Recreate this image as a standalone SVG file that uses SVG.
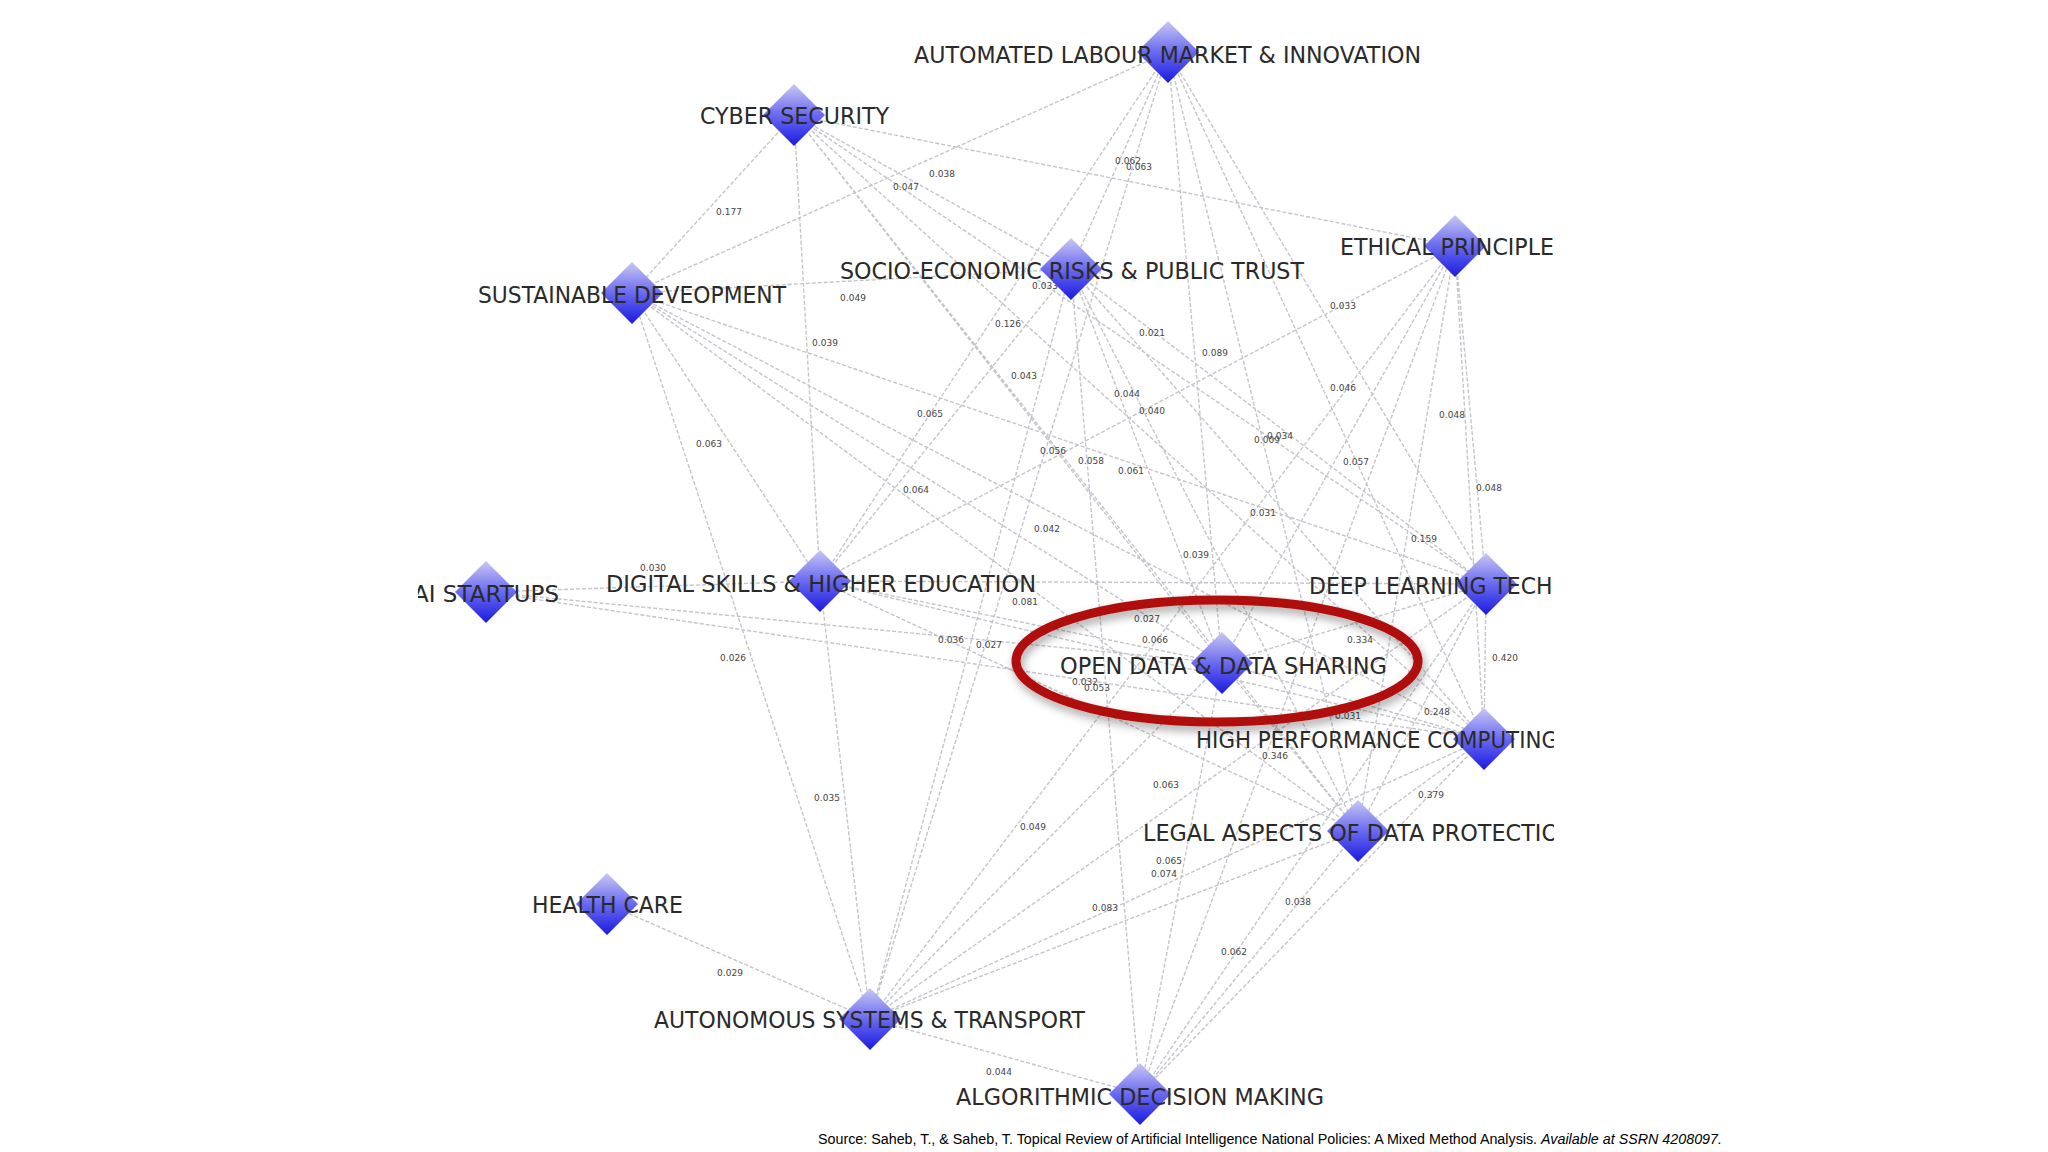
<svg xmlns="http://www.w3.org/2000/svg" width="2048" height="1152" viewBox="0 0 2048 1152">
<defs>
<linearGradient id="dg" x1="0" y1="0" x2="0" y2="1"><stop offset="0" stop-color="#c8c8f4"/><stop offset="0.5" stop-color="#6a6af0"/><stop offset="1" stop-color="#1a1ae0"/></linearGradient>
<symbol id="dia" viewBox="-32 -32 64 64" overflow="visible"><path d="M0,-31 L31,0 L0,31 L-31,0 Z" fill="url(#dg)"/></symbol>
<clipPath id="clip"><rect x="418" y="0" width="1136" height="1125"/></clipPath>
<filter id="sh" x="-20%" y="-30%" width="140%" height="160%"><feDropShadow dx="2" dy="5" stdDeviation="5" flood-color="#000" flood-opacity="0.35"/></filter>
</defs>
<style>
.e{stroke:#c4c4cc;stroke-width:1.4;stroke-dasharray:4 2;fill:none}
.w{font-family:"DejaVu Sans",sans-serif;font-size:9px;fill:#444;text-anchor:middle}
.n{font-family:"DejaVu Sans",sans-serif;font-size:23px;fill:#2a2a2a}
.s{font-family:"Liberation Sans",Arial,sans-serif;font-size:14px;fill:#000}
</style>
<rect width="2048" height="1152" fill="#fff"/>
<g id="connectors" clip-path="url(#clip)">
<path class="e" d="M1168,52L632,293M1168,52L1071,269M1168,52L820,581M1168,52L1222,663M1168,52L1486,584M1168,52L1484,739M1168,52L1358,831M1168,52L870,1019
M794,115L632,293M794,115L1455,246M794,115L820,581M794,115L1222,663M794,115L1486,584M794,115L1484,739M794,115L1358,831M794,115L1071,269
M632,293L1071,269M632,293L870,1019M632,293L820,581M632,293L1222,663M632,293L1486,584M632,293L1484,739M632,293L1358,831
M1071,269L870,1019M1071,269L1222,663M1071,269L1358,831M1071,269L1484,739M1071,269L1486,584M1071,269L1140,1094M1071,269L820,581
M1455,246L820,581M1455,246L1222,663M1455,246L1486,584M1455,246L1484,739M1455,246L1358,831M1455,246L1140,1094M1455,246L870,1019
M486,592L820,581M486,592L1222,663M486,592L1484,739
M820,581L1486,584M820,581L1222,663M820,581L1484,739M820,581L1358,831M820,581L870,1019
M1486,584L1222,663M1486,584L1484,739M1486,584L1358,831M1486,584L870,1019M1486,584L1140,1094
M1222,663L1484,739M1222,663L1358,831M1222,663L870,1019M1222,663L1140,1094
M1484,739L1358,831M1484,739L870,1019M1484,739L1140,1094
M1358,831L1140,1094M1358,831L870,1019M607,904L870,1019M870,1019L1140,1094"/>
<text class="w" x="942" y="177">0.038</text><text class="w" x="906" y="190">0.047</text><text class="w" x="729" y="215">0.177</text>
<text class="w" x="1128" y="164">0.062</text><text class="w" x="1139" y="170">0.063</text><text class="w" x="853" y="301">0.049</text>
<text class="w" x="825" y="346">0.039</text><text class="w" x="1008" y="327">0.126</text><text class="w" x="1152" y="336">0.021</text>
<text class="w" x="1045" y="289">0.033</text><text class="w" x="1215" y="356">0.089</text><text class="w" x="1343" y="309">0.033</text>
<text class="w" x="1024" y="379">0.043</text><text class="w" x="1343" y="391">0.046</text><text class="w" x="930" y="417">0.065</text>
<text class="w" x="1127" y="397">0.044</text><text class="w" x="1152" y="414">0.040</text><text class="w" x="1452" y="418">0.048</text>
<text class="w" x="709" y="447">0.063</text><text class="w" x="1053" y="454">0.056</text><text class="w" x="1091" y="464">0.058</text>
<text class="w" x="1131" y="474">0.061</text><text class="w" x="1280" y="439">0.034</text><text class="w" x="1267" y="443">0.009</text>
<text class="w" x="1356" y="465">0.057</text><text class="w" x="916" y="493">0.064</text><text class="w" x="1489" y="491">0.048</text>
<text class="w" x="1263" y="516">0.031</text><text class="w" x="1047" y="532">0.042</text><text class="w" x="1424" y="542">0.159</text>
<text class="w" x="1196" y="558">0.039</text><text class="w" x="653" y="571">0.030</text><text class="w" x="1025" y="605">0.081</text>
<text class="w" x="1147" y="622">0.027</text><text class="w" x="1155" y="643">0.066</text><text class="w" x="951" y="643">0.036</text>
<text class="w" x="989" y="648">0.027</text><text class="w" x="1360" y="643">0.334</text><text class="w" x="733" y="661">0.026</text>
<text class="w" x="1505" y="661">0.420</text><text class="w" x="1085" y="685">0.032</text><text class="w" x="1097" y="691">0.053</text>
<text class="w" x="1348" y="719">0.031</text><text class="w" x="1437" y="715">0.248</text><text class="w" x="1275" y="759">0.346</text>
<text class="w" x="1166" y="788">0.063</text><text class="w" x="1431" y="798">0.379</text><text class="w" x="827" y="801">0.035</text>
<text class="w" x="1033" y="830">0.049</text><text class="w" x="1169" y="864">0.065</text><text class="w" x="1164" y="877">0.074</text>
<text class="w" x="1105" y="911">0.083</text><text class="w" x="1298" y="905">0.038</text><text class="w" x="1234" y="955">0.062</text>
<text class="w" x="730" y="976">0.029</text><text class="w" x="999" y="1075">0.044</text>
</g>
<g clip-path="url(#clip)">
<g id="n-al"><use href="#dia" x="1136" y="20" width="64" height="64"/><text class="n" x="914" y="63" textLength="507" lengthAdjust="spacingAndGlyphs">AUTOMATED LABOUR MARKET &amp; INNOVATION</text></g>
<g id="n-cs"><use href="#dia" x="762" y="83" width="64" height="64"/><text class="n" x="700" y="124" textLength="189" lengthAdjust="spacingAndGlyphs">CYBER SECURITY</text></g>
<g id="n-ep"><use href="#dia" x="1423" y="214" width="64" height="64"/><text class="n" x="1340" y="255" textLength="214" lengthAdjust="spacingAndGlyphs">ETHICAL PRINCIPLE</text></g>
<g id="n-se"><use href="#dia" x="1039" y="237" width="64" height="64"/><text class="n" x="840" y="279" textLength="464" lengthAdjust="spacingAndGlyphs">SOCIO-ECONOMIC RISKS &amp; PUBLIC TRUST</text></g>
<g id="n-sd"><use href="#dia" x="600" y="261" width="64" height="64"/><text class="n" x="478" y="303" textLength="308" lengthAdjust="spacingAndGlyphs">SUSTAINABLE DEVEOPMENT</text></g>
<g id="n-ai"><use href="#dia" x="454" y="560" width="64" height="64"/><text class="n" x="413" y="602" textLength="146" lengthAdjust="spacingAndGlyphs">AI STARTUPS</text></g>
<g id="n-ds"><use href="#dia" x="788" y="549" width="64" height="64"/><text class="n" x="606" y="592" textLength="430" lengthAdjust="spacingAndGlyphs">DIGITAL SKILLS &amp; HIGHER EDUCATION</text></g>
<g id="n-dl"><use href="#dia" x="1454" y="552" width="64" height="64"/><text class="n" x="1309" y="594" textLength="250" lengthAdjust="spacingAndGlyphs">DEEP LEARNING TECHI</text></g>
<g id="n-od"><use href="#dia" x="1190" y="631" width="64" height="64"/><text class="n" x="1060" y="674" textLength="327" lengthAdjust="spacingAndGlyphs">OPEN DATA &amp; DATA SHARING</text></g>
<g id="n-hp"><use href="#dia" x="1452" y="707" width="64" height="64"/><text class="n" x="1196" y="748" textLength="362" lengthAdjust="spacingAndGlyphs">HIGH PERFORMANCE COMPUTING</text></g>
<g id="n-la"><use href="#dia" x="1326" y="799" width="64" height="64"/><text class="n" x="1143" y="841" textLength="416" lengthAdjust="spacingAndGlyphs">LEGAL ASPECTS OF DATA PROTECTIO</text></g>
<g id="n-hc"><use href="#dia" x="575" y="872" width="64" height="64"/><text class="n" x="532" y="913" textLength="151" lengthAdjust="spacingAndGlyphs">HEALTH CARE</text></g>
<g id="n-as"><use href="#dia" x="838" y="987" width="64" height="64"/><text class="n" x="654" y="1028" textLength="431" lengthAdjust="spacingAndGlyphs">AUTONOMOUS SYSTEMS &amp; TRANSPORT</text></g>
<g id="n-ad"><use href="#dia" x="1108" y="1062" width="64" height="64"/><text class="n" x="956" y="1105" textLength="368" lengthAdjust="spacingAndGlyphs">ALGORITHMIC DECISION MAKING</text></g>
</g>
<ellipse id="highlight" cx="1217" cy="661" rx="201" ry="61" fill="none" stroke="#b01010" stroke-width="9" filter="url(#sh)"/>
<text class="s" x="818" y="1144" textLength="904" lengthAdjust="spacingAndGlyphs">Source: Saheb, T., &amp; Saheb, T. Topical Review of Artificial Intelligence National Policies: A Mixed Method Analysis. <tspan font-style="italic">Available at SSRN 4208097.</tspan></text>
</svg>
